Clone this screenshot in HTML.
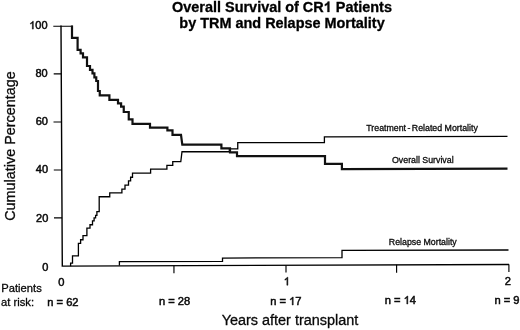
<!DOCTYPE html>
<html><head><meta charset="utf-8">
<style>
html,body{margin:0;padding:0;background:#fff;}
body{width:520px;height:330px;overflow:hidden;}
svg{display:block;will-change:transform;font-family:"Liberation Sans",sans-serif;fill:#0a0a0a;}
text{stroke:#0a0a0a;stroke-width:0.5px;}
.t text{stroke-width:0.3px;fill:#000;stroke:#000;}
.s text{stroke-width:0.3px;}
text .o1{fill:none;stroke:none;}
text.a{stroke-width:0.3px;}
.p text{stroke-width:0.3px;}
</style></head><body>
<svg width="520" height="330" viewBox="0 0 520 330">
<rect width="520" height="330" fill="#fff"/>
<g font-weight="bold" font-size="14.45px" text-anchor="middle" class="t">
<text x="282" y="11.5">Overall Survival of CR<tspan class="o1">1</tspan> Patients</text>
<text x="282" y="27.8">by TRM and Relapse Mortality</text>
</g>
<!-- axes -->
<g fill="none" stroke="#000">
<path stroke-width="1.4" d="M61 25.5 L62.3 266.1 L509.1 264.5"/>
<path stroke-width="1.15" d="M53.3 26.2H73 M53.7 73.9H61.4 M53.5 122H61.6 M53.8 170H61.9 M54 217.9H62.1"/>
<path stroke-width="1.15" d="M173.95 265.6V273.2 M286 265.2V272.6 M396.6 264.8V272.8 M508.9 264.4V272"/>
</g>
<!-- TRM -->
<path fill="none" stroke="#000" stroke-width="1.3" d="M70.6 266.15V263.1H72.5V255.95H78.4V243.35H80.6V239.75H83V235.6H86.9V228.1H90V224.75H92.5V220.95H94.1V217.85H95.6V215.35H96.9V211.6H99.2V196.75H109.75V192.85H121.9V189.1H125V185.1H128.5V180.95H130.6V177.25H132.5V173.15H150.6V169.1H166.9V165.35H172.75V161.6H180.8L182 151.75H229.4V148.85H237.75V142.65H324.4V136.85L507.5 136.4"/>
<!-- Relapse -->
<path fill="none" stroke="#000" stroke-width="1.3" d="M119.4 265.6V261.6L222.5 261.4V258.1L342 257.6V250.3L508.5 250"/>
<!-- OS -->
<path fill="none" stroke="#111" stroke-width="2.2" stroke-linejoin="miter" d="M72 25.6V37.9H77.6V49.8H80.6V53.4H83V57.4H87V66H90V69.8H92.5V73.4H94.4V77.4H96.25V81H98V91H99.75V95.4H109.4V99.8H118V103.4H121.1V106.7H123.75V112H128.75V119.4H132.5V123.8H150V127.7H167.4V130.4H172.5V134.8H181L182.3 144.6H221.4V148.4H230V152.3H237V156.2H325V163.8H341.9V169.2L507.5 168.7"/>
<g font-size="11px" text-anchor="end">
<text x="47.6" y="29.1"><tspan class="o1">1</tspan>00</text>
<text x="47.7" y="76.8">80</text>
<text x="47.9" y="125.4">60</text>
<text x="48.1" y="173.1">40</text>
<text x="48.3" y="222.3">20</text>
<text x="48.3" y="270.6">0</text>
</g>
<g font-size="11.15px" text-anchor="middle">
<text x="61.3" y="286.2">0</text>
<text x="286" y="285.2"><tspan class="o1">1</tspan></text>
<text x="507.9" y="285">2</text>
<text x="62.9" y="305.7">n = 62</text>
<text x="174.6" y="305.1">n = 28</text>
<text x="285.8" y="305">n = <tspan class="o1">1</tspan>7</text>
<text x="400.4" y="304">n = <tspan class="o1">1</tspan>4</text>
<text x="507" y="304.4">n = 9</text>
</g>
<g font-size="11.2px" class="p">
<text x="1.3" y="292.1">Patients</text>
<text x="1.1" y="305.7">at risk:</text>
</g>
<text class="a" font-size="14.4px" text-anchor="middle" transform="translate(15.3 146) rotate(-90)">Cumulative Percentage</text>
<text class="a" font-size="14.45px" text-anchor="middle" x="290" y="325.2">Years after transplant</text>
<g font-size="8.8px" class="s">
<text x="366.3" y="131.2">Treatment<tspan dx="1.4">-</tspan><tspan dx="1.4">Related Mortality</tspan></text>
<text x="392" y="163.3">Overall Survival</text>
<text x="388.8" y="244.9">Relapse Mortality</text>
</g>
<!-- ones -->
<g fill="#0a0a0a" stroke="#0a0a0a">
<path transform="translate(323.72 12) scale(0.007056 -0.007056)" stroke-width="42.5" d="M806 0H525V1059Q371 915 162 846V1101Q272 1137 401 1237.5T578 1472H806Z"/>
<path transform="translate(29.225 29.1) scale(0.005371 -0.005371)" stroke-width="93.1" d="M763 0H583V1147Q518 1085 412.5 1023T223 930V1104Q374 1175 487 1276T647 1472H763Z"/>
<path transform="translate(283.7 285.2) scale(0.005444 -0.005444)" stroke-width="91.8" d="M763 0H583V1147Q518 1085 412.5 1023T223 930V1104Q374 1175 487 1276T647 1472H763Z"/>
<path transform="translate(289.05 305) scale(0.005444 -0.005444)" stroke-width="91.8" d="M763 0H583V1147Q518 1085 412.5 1023T223 930V1104Q374 1175 487 1276T647 1472H763Z"/>
<path transform="translate(403.65 304) scale(0.005444 -0.005444)" stroke-width="91.8" d="M763 0H583V1147Q518 1085 412.5 1023T223 930V1104Q374 1175 487 1276T647 1472H763Z"/>
</g>
</svg>
</body></html>
